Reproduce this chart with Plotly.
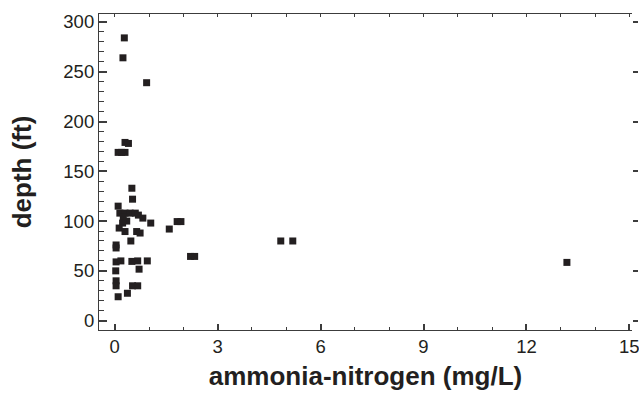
import plotly.graph_objects as go

ammonia_mg_l = [0.28, 0.24, 0.93, 0.30, 0.40, 0.10, 0.30, 0.20,
                0.50, 0.52, 0.10,
                0.15, 0.30, 0.45, 0.60, 0.69, 0.82, 0.25, 0.35, 0.23, 1.05,
                0.13, 0.30, 0.64, 0.74, 0.47,
                0.04, 0.04, 0.04, 0.18, 0.50, 0.67, 0.95, 0.71, 0.03,
                0.04, 0.04, 0.52, 0.67, 0.37, 0.10,
                1.59, 1.82, 1.93, 2.21, 2.33, 4.84, 5.19, 13.18]
depth_ft = [284, 264, 239, 179, 178, 169, 169, 169,
            133, 122, 115,
            108, 108, 108, 108, 106, 103, 104, 100, 98, 98,
            93, 89.5, 89.5, 88, 80,
            76, 73, 59, 60, 59.5, 60, 60, 51.7, 50,
            40, 35, 35, 35, 27.5, 24,
            92, 99.5, 99.5, 64.5, 64.5, 80, 80, 58.5]

x_ticks = [0, 3, 6, 9, 12, 15]
y_ticks = [0, 50, 100, 150, 200, 250, 300]
x_range = [-0.458, 15.077]
y_range = [-9.4, 308]

ink = "#231f20"
axis_col = "#3c3c3c"
font_fam = "Liberation Sans, Arial, sans-serif"

fig = go.Figure()
fig.add_trace(go.Scatter(
    x=ammonia_mg_l, y=depth_ft, mode="markers",
    marker=dict(symbol="square", size=7, color=ink, line=dict(width=0)),
    showlegend=False))
# invisible copy so the mirrored top/right axes are drawn
fig.add_trace(go.Scatter(
    x=ammonia_mg_l, y=depth_ft, mode="markers", xaxis="x2", yaxis="y2",
    marker=dict(symbol="square", size=7, opacity=0), hoverinfo="skip",
    showlegend=False))

fig.update_layout(
    width=639, height=402,
    margin=dict(l=99, r=7, t=14, b=72),
    paper_bgcolor="white", plot_bgcolor="white",
    font=dict(family=font_fam, color=ink),
    xaxis=dict(
        range=x_range, tickvals=x_ticks, ticktext=[str(v) for v in x_ticks],
        ticks="inside", ticklen=6, tickwidth=1.5, tickcolor=axis_col,
        minor=dict(dtick=1, ticks="inside", ticklen=3, tickwidth=1, tickcolor=axis_col, showgrid=False),
        showline=True, linecolor=axis_col, linewidth=1.2,
        showgrid=False, zeroline=False, automargin=False,
        ticklabeloverflow="allow",
        tickfont=dict(size=18.5, color=ink),
        title=dict(text="<b>ammonia-nitrogen (mg/L)</b>", font=dict(size=26, color=ink), standoff=10)),
    yaxis=dict(
        range=y_range, tickvals=y_ticks, ticktext=[str(v) for v in y_ticks],
        ticks="inside", ticklen=8, tickwidth=1.5, tickcolor=axis_col,
        minor=dict(dtick=10, ticks="inside", ticklen=5, tickwidth=1, tickcolor=axis_col, showgrid=False),
        showline=True, linecolor=axis_col, linewidth=1.2,
        showgrid=False, zeroline=False, automargin=False,
        ticklabeloverflow="allow",
        tickfont=dict(size=18.5, color=ink),
        title=dict(text="<b>depth (ft)</b>", font=dict(size=26, color=ink), standoff=24)),
    xaxis2=dict(
        range=x_range, overlaying="x", side="top", dtick=1, tick0=0,
        ticks="inside", ticklen=3, tickwidth=1, tickcolor=axis_col,
        showticklabels=False, showline=True, linecolor=axis_col, linewidth=1.2,
        showgrid=False, zeroline=False, automargin=False),
    yaxis2=dict(
        range=y_range, overlaying="y", side="right", tickvals=y_ticks,
        ticks="outside", ticklen=5, tickwidth=1.5, tickcolor=axis_col,
        showticklabels=False, showline=False,
        showgrid=False, zeroline=False, automargin=False),
)

fig.write_html("out.html", config={"displayModeBar": False},
               post_script="document.body.style.margin='0';")
